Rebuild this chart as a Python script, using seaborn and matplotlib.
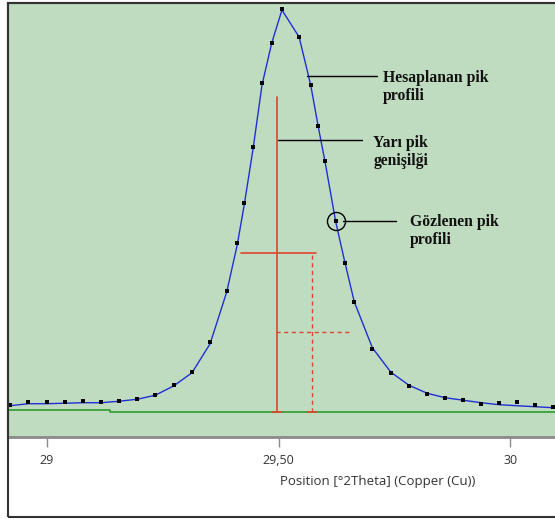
import numpy as np
import pandas as pd
import matplotlib
matplotlib.use("Agg")
import matplotlib.pyplot as plt
import seaborn as sns
from matplotlib.patches import Rectangle

# ---------------- data ----------------
two_theta = [28.920, 28.960, 29.000, 29.038, 29.078, 29.116, 29.156, 29.195,
             29.234, 29.274, 29.313, 29.352, 29.388, 29.411, 29.426, 29.445,
             29.464, 29.485, 29.507, 29.544, 29.569, 29.585, 29.600, 29.623,
             29.643, 29.663, 29.702, 29.742, 29.781, 29.820, 29.859, 29.898,
             29.937, 29.976, 30.014, 30.053, 30.092]
observed = [320, 343, 343, 350, 353, 347, 360, 377,
            420, 517, 648, 943, 1460, 1937, 2343, 2903,
            3537, 3943, 4275, 4003, 3520, 3113, 2760, 2155,
            1737, 1347, 882, 640, 510, 427, 387, 367,
            330, 333, 343, 320, 300]
calculated = [310, 330, 330, 335, 340, 340, 355, 375,
              415, 510, 640, 930, 1450, 1930, 2330, 2890,
              3520, 3940, 4270, 4000, 3520, 3110, 2750, 2150,
              1740, 1350, 890, 645, 515, 435, 390, 365,
              340, 320, 310, 300, 290]

background_x = [28.915, 29.136, 30.100]
background_y = [263, 247, 247]

# peak markers (position, heights) and half-width construction
peak_pos = 29.497
peak_top = 3403
baseline = 247
half_level = 1837
half_left, half_right = 29.418, 29.580
fwhm_pos = 29.572
dash_level = 1047
dash_left, dash_right = 29.495, 29.654

# annotations: (text, line x0, line x1, line y, text x, text last-line baseline y)
ann_texts = ["Hesaplanan pik\nprofili", "Yarı pik\ngenişilği", "Gözlenen pik\nprofili"]
ann_line_x0 = [29.560, 29.498, 29.639]
ann_line_x1 = [29.711, 29.680, 29.754]
ann_line_y = [3613, 2970, 2163]
ann_text_x = [29.724, 29.704, 29.783]
ann_text_y = [3370, 2720, 1930]
circle_x, circle_y = 29.623, 2155

tick_values = [29.0, 29.5, 30.0]
tick_labels = ["29", "29,50", "30"]
x_label = "Position [°2Theta] (Copper (Cu))"

# ---------------- style ----------------
sns.set_style("white")
plt.rcParams["font.family"] = ["Open Sans", "DejaVu Sans"]

GREEN_BG = "#C0DCC0"
BLUE = "#1F2FD6"
RED = "#E0442E"
GREEN = "#2E9B2E"
DARK = "#333333"

fig = plt.figure(figsize=(5.55, 5.19), dpi=100)
fig.patch.set_facecolor("white")
ax = fig.add_axes([7.5 / 555, (519 - 436.7) / 519, (555 - 7.5) / 555, (436.7 - 3) / 519])
ax.set_facecolor(GREEN_BG)

df = pd.DataFrame({"x": two_theta, "obs": observed, "calc": calculated})

# background line
ax.plot(background_x, background_y, color=GREEN, lw=1.2, drawstyle="steps-post", zorder=2)

# red peak construction
ax.plot([peak_pos, peak_pos], [baseline, peak_top], color=RED, lw=1.2, zorder=3)
ax.plot([half_left, half_right], [half_level, half_level], color=RED, lw=1.2, zorder=3)
ax.plot([fwhm_pos, fwhm_pos], [baseline, half_level], color=RED, lw=1.0, ls=(0, (3, 2.5)), zorder=3)
ax.plot([dash_left, dash_right], [dash_level, dash_level], color=RED, lw=1.0, ls=(0, (3, 2.5)), zorder=3)
ax.plot([peak_pos, fwhm_pos], [baseline, baseline], color=RED, lw=0, marker="_", ms=7, mew=1.2, zorder=3)

# calculated profile and observed points
sns.lineplot(data=df, x="x", y="calc", ax=ax, color=BLUE, lw=1.0, sort=False,
             estimator=None, zorder=4)
sns.scatterplot(data=df, x="x", y="obs", ax=ax, color="black", marker="s", s=5.5,
                linewidth=0, zorder=5)

# annotations
for t, x0, x1, ly, tx, ty in zip(ann_texts, ann_line_x0, ann_line_x1, ann_line_y,
                                   ann_text_x, ann_text_y):
    ax.plot([x0, x1], [ly, ly], color="black", lw=1.0, zorder=6)
    ax.text(tx, ty, t, ha="left", va="baseline", fontsize=11.3, fontweight="bold",
            family=["Liberation Serif", "DejaVu Serif"], color="#111111",
            linespacing=1.13, zorder=6)
ax.plot([circle_x], [circle_y], marker="o", ms=13, mfc="none", mec="black", mew=1.0, zorder=6)

# axes
ax.set_xlim(28.915, 30.096)
ax.set_ylim(0, 4340)
ax.set_xticks(tick_values)
ax.set_xticklabels(tick_labels)
ax.set_yticks([])
ax.set_ylabel("")
ax.set_xlabel(x_label, fontsize=9.5, color=DARK, va="center")
ax.xaxis.set_label_coords((377.7 - 7.5) / (555 - 7.5), (436.7 - 482) / (436.7 - 3))
ax.tick_params(axis="x", direction="out", length=7.5, width=1.0, color="#8A8A8A",
               labelsize=9, labelcolor=DARK, pad=5, bottom=True)

ax.spines["right"].set_visible(False)
ax.spines["top"].set_color(DARK)
ax.spines["top"].set_linewidth(1.5)
ax.spines["left"].set_color(DARK)
ax.spines["left"].set_linewidth(1.5)
ax.spines["bottom"].set_color("#8A8A8A")
ax.spines["bottom"].set_linewidth(2.0)

# outer frame of the figure panel
fig.patches.append(Rectangle((7.5 / 555, 2.5 / 519), 1.0, (516.5 - 2.5) / 519,
                             transform=fig.transFigure, fill=False, edgecolor=DARK,
                             lw=1.5, zorder=10))

fig.savefig("out.png", dpi=100, facecolor="white")
